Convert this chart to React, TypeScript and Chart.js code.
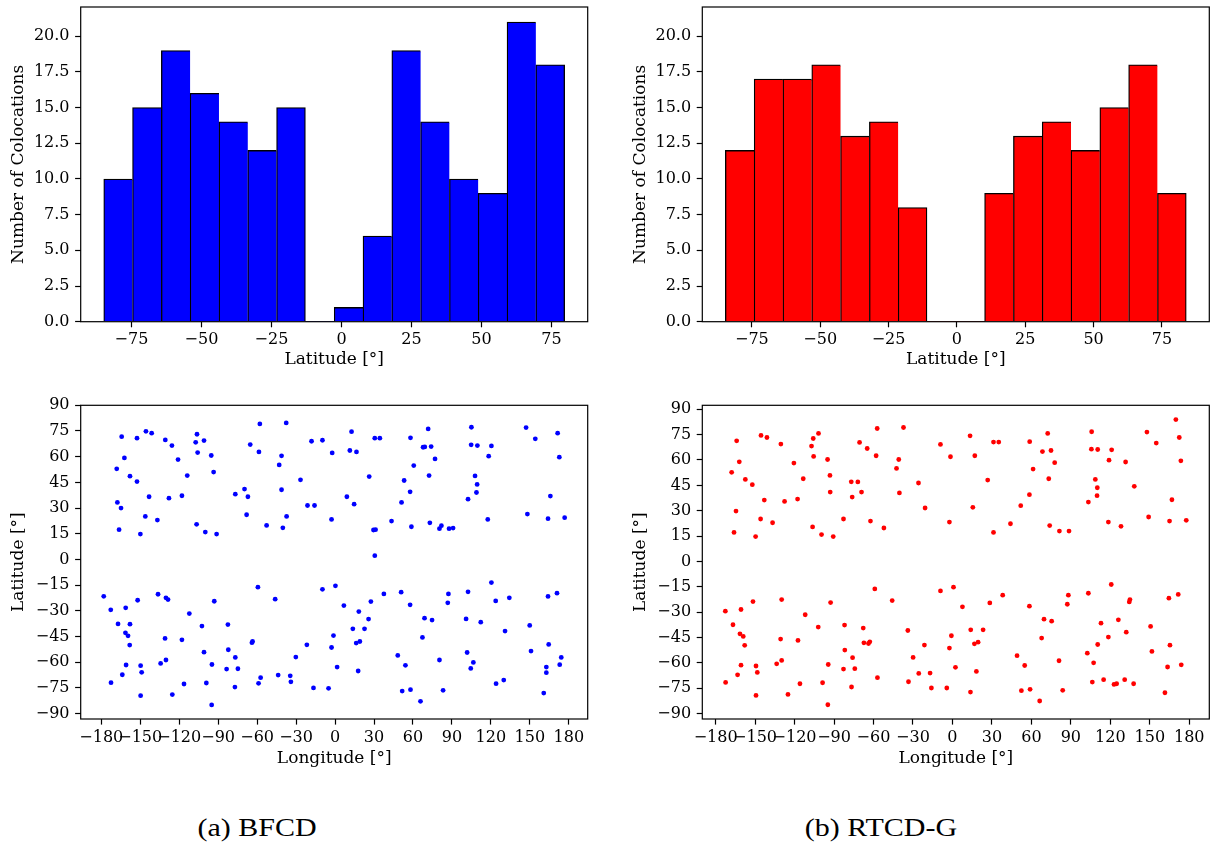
import React, { useEffect, useRef } from "react";
import { Chart, registerables } from "chart.js";

Chart.register(...registerables);

// ---------- tick labels ----------
const histTicksY = [0, 2.5, 5, 7.5, 10, 12.5, 15, 17.5, 20];
const histTicksX = [-75, -50, -25, 0, 25, 50, 75];
const mapTicksX = [-180, -150, -120, -90, -60, -30, 0, 30, 60, 90, 120, 150, 180];
const mapTicksY = [-90, -75, -60, -45, -30, -15, 0, 15, 30, 45, 60, 75, 90];

// ---------- histogram counts (16 bins each) ----------
const bfcdCounts = [10, 15, 19, 16, 14, 12, 15, 0, 1, 6, 19, 14, 10, 9, 21, 18];
const bfcdBinRange = [-84.9, 79.7];
const rtcdCounts = [12, 17, 17, 18, 13, 14, 8, 0, 0, 9, 13, 14, 12, 15, 18, 9];
const rtcdBinRange = [-84.7, 83.9];

// ---------- BFCD colocations (longitude / latitude) ----------
const bfcdLon = [
  -164.3, -152.5, -145.6, -141.2, -130.7, -125.6, -106.3, -107.3, -100.9, -105.8,
  -95.3, -57.9, -37.6, -65.3, -58.6, -41.2, -43.0, -18.1, -9.7, -2.2,
  -162.2, -168.1, -157.9, -152.5, -120.9, -113.8, -93.5, -26.6, -76.8, -69.7,
  -67.1, -41.2, -167.6, -164.8, -143.2, -127.9, -117.9, -21.2, -15.8, -146.1,
  -136.8, -166.3, -149.9, -106.6, -99.9, -91.2, -68.1, -37.3, -52.7, -40.2,
  -2.7,
  12.7, 30.6, 34.5, 11.4, 16.5, 58.1, 71.7, 67.8, 69.1, 74.0,
  77.0, 60.6, 26.3, 53.2, 72.4, 57.8, 51.2, 9.1, 14.7, 105.0,
  104.8, 109.6, 120.4, 118.3, 107.8, 109.4, 108.9, 102.4, 147.1, 154.2,
  171.4, 172.7, 165.8, 148.1, 164.0, 176.8, 117.6, 43.5, 58.8, 73.0,
  80.4, 81.9, 87.8, 90.9, 29.6, 31.2, 30.6,
  -178.1, -172.7, -161.2, -152.0, -136.3, -130.2, -128.6, -167.1, -157.9, -161.4,
  -159.4, -158.1, -112.2, -102.5, -93.0, -130.9, -117.9, -82.5, -59.4, -46.1,
  -9.7, 0.3, -100.9, -82.2, -76.8, -64.0, -63.5, -21.7, -1.2, -2.7,
  -30.2, -160.9, -149.7, -148.9, -163.8, -172.5, -134.3, -130.2, -94.8, -83.5,
  -74.8, 1.6, -116.3, -99.1, -77.1, -58.9, -57.3, -43.8, -34.5, -34.0,
  -16.6, -5.0, -149.7, -125.3, -95.0,
  6.8, 18.3, 27.6, 25.8, 37.6, 13.7, 22.7, 16.3, 19.1, 17.8,
  50.9, 57.8, 68.9, 74.7, 67.3, 48.3, 54.2, 80.4, 51.7, 58.1,
  65.8, 83.2, 87.3, 86.8, 102.4, 120.4, 123.7, 134.2, 100.9, 112.2,
  130.9, 101.7, 106.5, 104.5, 124.0, 129.9, 149.9, 150.9, 164.0, 170.9,
  164.5, 174.2, 173.0, 162.7, 162.7, 160.7,
];
const bfcdLat = [
  71.7, 70.8, 74.8, 73.7, 69.8, 66.5, 73.1, 68.4, 69.4, 62.4,
  60.7, 79.1, 79.7, 67.1, 62.8, 60.5, 55.2, 69.0, 69.6, 62.2,
  59.3, 52.9, 48.6, 45.5, 58.3, 49.0, 51.0, 46.5, 38.1, 41.1,
  36.6, 40.7, 33.3, 30.0, 36.6, 35.8, 37.2, 31.5, 31.5, 25.1,
  23.0, 17.4, 14.8, 20.5, 16.0, 14.8, 26.1, 25.1, 19.9, 18.5,
  23.4,
  74.6, 70.8, 70.8, 63.6, 62.8, 71.0, 76.2, 65.5, 65.7, 65.9,
  58.7, 54.8, 48.4, 46.1, 49.0, 39.5, 33.3, 36.6, 32.3, 77.2,
  66.9, 66.5, 66.3, 60.3, 48.8, 43.8, 39.1, 35.2, 77.0, 70.4,
  73.7, 59.7, 37.0, 26.5, 23.8, 24.4, 23.4, 22.4, 19.1, 21.4,
  18.0, 19.7, 18.0, 18.3, 17.2, 17.4, 2.2,
  -21.5, -29.4, -28.2, -23.8, -20.3, -22.4, -23.4, -37.6, -37.8, -42.8,
  -44.6, -50.0, -31.6, -38.9, -24.4, -46.1, -46.9, -38.0, -16.2, -23.2,
  -17.4, -15.4, -54.1, -52.7, -57.2, -48.6, -47.9, -49.8, -44.4, -51.4,
  -57.0, -61.6, -62.0, -65.9, -67.3, -71.9, -60.7, -58.7, -61.3, -64.0,
  -63.8, -62.8, -72.7, -72.1, -74.5, -72.3, -69.0, -67.5, -67.9, -71.4,
  -75.0, -75.2, -79.5, -78.9, -84.9,
  -26.9, -30.4, -24.6, -34.8, -20.1, -40.5, -40.5, -48.8, -47.9, -65.1,
  -19.1, -26.5, -34.3, -35.4, -45.5, -56.0, -61.8, -58.7, -76.8, -76.0,
  -82.8, -76.4, -20.1, -25.3, -18.9, -13.5, -24.2, -22.4, -34.7, -36.6,
  -41.8, -54.3, -60.1, -63.6, -72.5, -70.4, -38.5, -53.5, -21.6, -19.7,
  -49.6, -57.2, -61.4, -62.8, -66.1, -78.0,
];

// ---------- RTCD-G colocations (longitude / latitude) ----------
const rtcdLon = [
  -164.0, -145.5, -141.0, -130.4, -105.8, -101.8, -107.1, -105.5, -94.9, -57.2,
  -37.2, -70.6, -64.8, -58.0, -40.8, -42.5, -9.1, -1.5, -162.0, -167.8,
  -157.4, -152.1, -120.5, -113.4, -93.1, -92.9, -76.9, -71.9, -69.1, -76.2,
  -40.3, -25.8, -143.0, -127.6, -117.7, -164.5, -20.8, -145.8, -136.7, -166.0,
  -149.6, -106.3, -99.5, -90.6, -82.8, -62.3, -52.1, -2.3,
  13.4, 31.2, 35.2, 17.0, 58.7, 72.4, 68.4, 74.9, 77.7, 61.3,
  26.8, 73.2, 58.5, 51.9, 15.5, 105.8, 105.6, 110.4, 121.0, 119.0,
  131.6, 108.6, 110.1, 109.9, 103.3, 138.2, 147.8, 154.9, 169.8, 172.4,
  173.6, 166.8, 149.1, 165.0, 177.7, 118.5, 128.1, 44.1, 31.2, 73.9,
  81.3, 88.6,
  -172.6, -160.7, -151.6, -129.8, -166.8, -161.5, -159.0, -157.9, -111.9, -92.6,
  -102.0, -130.6, -117.4, -82.0, -59.0, -45.8, -9.1, 0.8, -67.8, -67.3,
  -63.8, -62.8, -81.8, -75.9, -74.2, -82.8, -33.9, -21.3, -0.8, -2.3,
  -29.9, 2.3, -160.7, -149.3, -148.3, -163.3, -172.4, -133.6, -129.8, -94.4,
  -115.9, -98.7, -76.7, -57.0, -33.4, -25.6, -17.0, -16.0, -4.3, -149.3,
  -125.0, -94.7,
  7.6, 28.4, 38.2, 13.9, 23.3, 16.7, 19.5, 18.2, 13.7, 58.5,
  69.6, 75.4, 67.8, 49.1, 54.9, 81.0, 52.4, 59.0, 66.3, 83.8,
  88.1, 87.3, 103.3, 120.7, 134.9, 134.4, 126.1, 112.9, 118.5, 132.1,
  110.4, 102.5, 107.3, 106.3, 114.9, 122.8, 124.8, 130.9, 137.7, 150.6,
  151.6, 164.5, 171.6, 165.3, 163.5, 173.9, 161.5,
];
const rtcdLat = [
  71.3, 74.5, 73.3, 69.4, 72.7, 75.7, 68.2, 62.1, 60.3, 78.6,
  79.2, 70.4, 66.8, 62.5, 60.3, 55.0, 69.2, 61.9, 58.9, 52.7,
  48.5, 45.4, 58.2, 48.9, 50.9, 41.0, 47.1, 47.0, 41.0, 38.1,
  40.5, 46.4, 36.3, 35.5, 36.9, 29.8, 31.6, 25.1, 22.9, 17.2,
  14.7, 20.4, 15.9, 14.7, 25.1, 23.9, 19.8, 23.3,
  74.3, 70.6, 70.6, 62.5, 70.8, 75.7, 65.0, 65.6, 58.4, 54.6,
  48.1, 48.9, 39.5, 33.0, 32.0, 76.7, 66.4, 66.2, 66.0, 59.9,
  58.8, 48.5, 43.6, 38.9, 35.1, 44.4, 76.5, 70.0, 83.9, 73.3,
  59.5, 36.5, 26.3, 23.9, 24.3, 23.3, 20.8, 22.3, 17.2, 21.2,
  18.0, 18.0,
  -29.4, -28.4, -23.7, -22.5, -37.4, -42.8, -44.3, -49.6, -31.5, -24.3,
  -38.8, -45.9, -46.7, -37.6, -16.2, -23.1, -17.4, -15.2, -39.4, -48.1,
  -48.5, -47.5, -52.4, -56.9, -63.4, -63.6, -40.8, -49.4, -43.9, -51.2,
  -56.7, -62.6, -61.3, -61.8, -65.6, -67.0, -71.5, -60.5, -58.5, -60.9,
  -72.3, -71.7, -74.2, -68.7, -71.1, -66.2, -66.0, -74.8, -74.8, -79.2,
  -78.6, -84.7,
  -26.8, -24.5, -19.9, -40.4, -40.4, -48.7, -47.7, -65.0, -77.2, -26.4,
  -34.1, -35.3, -45.3, -55.7, -61.5, -58.7, -76.4, -75.6, -82.5, -76.2,
  -19.9, -25.3, -18.8, -13.6, -22.5, -23.9, -34.5, -36.5, -44.7, -41.8,
  -49.1, -54.2, -59.9, -71.3, -69.9, -72.7, -72.3, -69.9, -72.3, -38.4,
  -53.2, -21.7, -19.5, -49.5, -62.4, -61.1, -77.6,
];

// ---------- helpers ----------
const FONT = '"DejaVu Serif", serif';
const minusFmt = (v: number) => (v < 0 ? "\u2212" + Math.abs(v) : String(v));

const framePlugin = {
  id: "frame",
  afterDatasetsDraw(chart: any) {
    const { ctx, chartArea: a } = chart;
    ctx.save();
    ctx.strokeStyle = "#000";
    ctx.lineWidth = 1.2;
    ctx.strokeRect(a.left, a.top, a.right - a.left, a.bottom - a.top);
    ctx.restore();
  },
};

type Geo = {
  cl: number; ct: number; cw: number; ch: number; // canvas box (page px)
  L: number; R: number; T: number; B: number; // plot area (page px)
  xTitlePad: number;
};

function axisOpts(
  geo: Geo,
  axis: "x" | "y",
  min: number,
  max: number,
  ticks: number[],
  fmt: (v: number) => string,
  title: string
) {
  const isX = axis === "x";
  return {
    type: "linear",
    min,
    max,
    offset: false,
    border: { display: false },
    grid: {
      display: true,
      offset: false,
      drawOnChartArea: false,
      drawTicks: true,
      tickLength: 5.6,
      tickWidth: 1.2,
      tickColor: "#000",
      color: "#000",
    },
    ticks: {
      autoSkip: false,
      maxRotation: 0,
      minRotation: 0,
      padding: isX ? 3.2 : 5.6,
      color: "#000",
      font: { family: FONT, size: 16 },
      callback: (v: any) => fmt(Number(v)),
    },
    title: {
      display: true,
      text: title,
      color: "#000",
      font: { family: FONT, size: 17 },
      padding: isX ? { top: 0, bottom: geo.xTitlePad } : { top: 8.8, bottom: 0 },
    },
    afterBuildTicks: (s: any) => {
      s.ticks = ticks.map((v) => ({ value: v }));
    },
    afterFit: (s: any) => {
      if (isX) s.height = geo.ct + geo.ch - geo.B;
      else s.width = geo.L - geo.cl;
      s.paddingTop = 0;
      s.paddingBottom = 0;
      s.paddingLeft = 0;
      s.paddingRight = 0;
    },
  };
}

function baseOptions(geo: Geo) {
  return {
    responsive: false,
    animation: false,
    devicePixelRatio: 1,
    layout: {
      padding: {
        left: 0,
        top: geo.T - geo.ct,
        right: geo.cl + geo.cw - geo.R,
        bottom: 0,
      },
    },
    plugins: { legend: { display: false }, tooltip: { enabled: false } },
  };
}

function histConfig(geo: Geo, counts: number[], range: number[], color: string) {
  const n = counts.length;
  const w = (range[1] - range[0]) / n;
  const centers = counts.map((_, i) => range[0] + w * (i + 0.5));
  const margin = (range[1] - range[0]) * 0.05;
  return {
    type: "bar",
    data: {
      datasets: [
        {
          data: counts.map((c, i) => ({ x: centers[i], y: c })),
          backgroundColor: color,
          borderColor: "#000",
          borderSkipped: "start",
          barPercentage: 1,
          categoryPercentage: 1,
          grouped: false,
          borderWidth: (c: any) => {
            const i = c.dataIndex;
            if (!counts[i]) return 0;
            const lastInRun = i === n - 1 || !counts[i + 1];
            return { top: 1.3, left: 1.3, right: lastInRun ? 1.3 : 0, bottom: 0 };
          },
        },
      ],
    },
    options: {
      ...baseOptions(geo),
      scales: {
        x: axisOpts(geo, "x", range[0] - margin, range[1] + margin, histTicksX, minusFmt, "Latitude [°]"),
        y: axisOpts(geo, "y", 0, 22.05, histTicksY, (v) => v.toFixed(1), "Number of Colocations"),
      },
    },
    plugins: [framePlugin],
  };
}

function mapConfig(geo: Geo, lon: number[], lat: number[], color: string) {
  const lonMin = Math.min(...lon), lonMax = Math.max(...lon);
  const latMin = Math.min(...lat), latMax = Math.max(...lat);
  const mx = (lonMax - lonMin) * 0.05;
  const my = (latMax - latMin) * 0.05;
  return {
    type: "scatter",
    data: {
      datasets: [
        {
          data: lon.map((x, i) => ({ x, y: lat[i] })),
          pointRadius: 2.4,
          pointBackgroundColor: color,
          pointBorderWidth: 0,
          pointBorderColor: color,
          showLine: false,
        },
      ],
    },
    options: {
      ...baseOptions(geo),
      scales: {
        x: axisOpts(geo, "x", lonMin - mx, lonMax + mx, mapTicksX, minusFmt, "Longitude [°]"),
        y: axisOpts(geo, "y", latMin - my, Math.max(90, latMax + my), mapTicksY, minusFmt, "Latitude [°]"),
      },
    },
    plugins: [framePlugin],
  };
}

function Panel({ geo, make }: { geo: Geo; make: () => any }) {
  const ref = useRef<HTMLCanvasElement | null>(null);
  useEffect(() => {
    const chart = new Chart(ref.current as HTMLCanvasElement, make() as any);
    return () => chart.destroy();
  }, []);
  return (
    <canvas
      ref={ref}
      width={geo.cw}
      height={geo.ch}
      style={{ position: "absolute", left: geo.cl, top: geo.ct, width: geo.cw, height: geo.ch }}
    />
  );
}

const geoHistA: Geo = { cl: 0, ct: 0, cw: 600, ch: 382, L: 80.7, R: 587.7, T: 7, B: 321.7, xTitlePad: 11.8 };
const geoHistB: Geo = { cl: 622, ct: 0, cw: 594, ch: 382, L: 702.3, R: 1209.3, T: 7, B: 321.7, xTitlePad: 11.8 };
const geoMapA: Geo = { cl: 0, ct: 390, cw: 600, ch: 390, L: 80.7, R: 587.7, T: 405.3, B: 719, xTitlePad: 11.3 };
const geoMapB: Geo = { cl: 622, ct: 390, cw: 594, ch: 390, L: 702.3, R: 1209.3, T: 405.3, B: 719, xTitlePad: 11.3 };

const captionStyle = (cx: number): React.CSSProperties => ({
  position: "absolute",
  left: cx,
  top: 828,
  transform: "translate(-50%, -50%) scaleX(1.2)",
  font: '25px "Liberation Serif", serif',
  color: "#000",
  whiteSpace: "nowrap",
});

export default function App() {
  return (
    <div
      style={{
        position: "fixed",
        left: 0,
        top: 0,
        width: 1216,
        height: 846,
        overflow: "hidden",
        background: "#fff",
      }}
    >
      <Panel geo={geoHistA} make={() => histConfig(geoHistA, bfcdCounts, bfcdBinRange, "#0000ff")} />
      <Panel geo={geoHistB} make={() => histConfig(geoHistB, rtcdCounts, rtcdBinRange, "#ff0000")} />
      <Panel geo={geoMapA} make={() => mapConfig(geoMapA, bfcdLon, bfcdLat, "#0000ff")} />
      <Panel geo={geoMapB} make={() => mapConfig(geoMapB, rtcdLon, rtcdLat, "#ff0000")} />
      <div style={captionStyle(256.5)}>(a) BFCD</div>
      <div style={captionStyle(881)}>(b) RTCD-G</div>
    </div>
  );
}
